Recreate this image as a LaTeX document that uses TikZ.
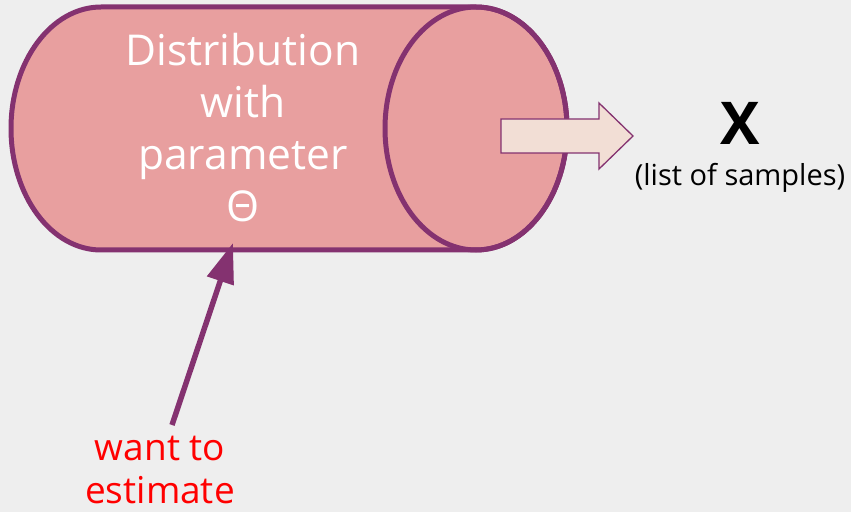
\documentclass[tikz,border=0pt]{standalone}
\usepackage{fontspec}
\setmainfont{Open Sans}
\usetikzlibrary{arrows.meta}
\definecolor{bgc}{RGB}{238,238,238}
\definecolor{plum}{RGB}{132,50,112}
\definecolor{cylfill}{RGB}{232,159,159}
\definecolor{arrowfill}{RGB}{242,222,213}
\tikzset{
  cylline/.style={draw=plum, line width=5pt},
  bodytext/.style={text=white, align=center, inner sep=0pt,
    font=\fontsize{42.5}{52}\selectfont},
  outtext/.style={inner sep=0pt},
  notetext/.style={text=red, align=center, inner sep=0pt,
    font=\fontsize{37}{43}\selectfont},
  pointer/.style={draw=plum, line width=5.5pt, -{Triangle[length=40pt,width=27pt]}},
}
\begin{document}
\begin{tikzpicture}[x=1pt,y=1pt]
  % canvas
  \fill[bgc] (0,0) rectangle (851,512);
  \useasboundingbox (0,0) rectangle (851,512);

  % cylinder body: left half-ellipse cap, straight sides, right end
  \path[fill=cylfill, cylline]
    (101,505) -- (476,505)
    arc[start angle=90, end angle=-90, x radius=91, y radius=121.5]
    -- (101,262)
    arc[start angle=270, end angle=90, x radius=90, y radius=121.5]
    -- cycle;
  % visible end face
  \draw[cylline] (476,383.5) ellipse[x radius=91, y radius=121.5];
  \coordinate (cylbottom) at (233,269);

  % block arrow leaving the end face
  \draw[draw=plum, fill=arrowfill, line width=1.3pt]
    (501,393) -- (599,393) -- (599,409) -- (633,376)
    -- (599,343) -- (599,359) -- (501,359) -- cycle;

  % label inside the cylinder (base = baseline of the last line)
  \node[bodytext, anchor=base] (dist) at (243,290)
    {Distribution\\with\\parameter\\Θ};

  % output label
  \node[outtext, anchor=base, font=\fontsize{59}{60}\selectfont\bfseries] (xvar) at (740,367) {X};
  \node[outtext, anchor=base, font=\fontsize{29}{32}\selectfont] (xdesc) at (740,326) {(list of samples)};

  % note with pointer
  \node[notetext, anchor=base] (note) at (160,9) {want to\\estimate};
  \coordinate (notetop) at (172,87);
  \draw[pointer] (notetop) -- (cylbottom);
\end{tikzpicture}
\end{document}
